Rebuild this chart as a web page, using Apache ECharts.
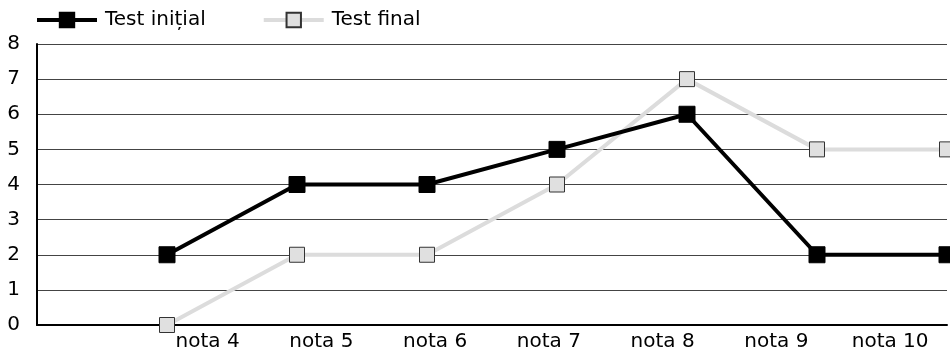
<!DOCTYPE html>
<html>
<head>
<meta charset="utf-8">
<script src="https://cdn.jsdelivr.net/npm/echarts@6/dist/echarts.min.js"></script>
<style>html,body{margin:0;padding:0;background:#fff;}#c{width:950px;height:349px;}</style>
</head>
<body>
<div id="c"></div>
<script>
var categories = ['', 'nota 4', 'nota 5', 'nota 6', 'nota 7', 'nota 8', 'nota 9', 'nota 10'];
var testInitial = [null, 2, 4, 4, 5, 6, 2, 2];
var testFinal = [null, 0, 2, 2, 4, 7, 5, 5];
var yTicks = [0, 1, 2, 3, 4, 5, 6, 7, 8];

var font = 'DejaVu Sans, sans-serif';
var chart = echarts.init(document.getElementById('c'));
chart.setOption({
  animation: false,
  backgroundColor: '#fff',
  legend: {
    left: 35, top: 10, padding: 0,
    itemWidth: 60, itemHeight: 18, itemGap: 56,
    textStyle: { fontFamily: font, fontSize: 20, color: '#000', padding: [0,0,0,3] },
    data: [
      { name: 'Test inițial', lineStyle: { width: 4, color: '#000' } },
      { name: 'Test final', lineStyle: { width: 4, color: '#dcdcdc' } }
    ]
  },
  grid: { left: 37, right: 3, top: 44, bottom: 24, outerBoundsMode: 'none', containLabel: false },
  xAxis: [{
    type: 'category', data: categories, boundaryGap: true,
    axisLine: { lineStyle: { color: '#000', width: 2 } },
    axisTick: { inside: true, length: 6, lineStyle: { color: '#000', width: 1.5 } },
    axisLabel: { fontFamily: font, fontSize: 20, color: '#000', margin: 7 },
    splitLine: { show: false }
  }, {
    type: 'category', data: categories, boundaryGap: false, show: false
  }],
  yAxis: {
    type: 'value', min: yTicks[0], max: yTicks[yTicks.length - 1], interval: 1,
    axisLine: { show: true, lineStyle: { color: '#000', width: 2 } },
    axisTick: { show: false },
    axisLabel: { fontFamily: font, fontSize: 20, color: '#000', margin: 17, padding: [4, 0, 0, 0] },
    splitLine: { lineStyle: { color: '#444', width: 1 } }
  },
  series: [{
    name: 'Test final', type: 'line', xAxisIndex: 1, data: testFinal,
    symbol: 'rect', symbolSize: 15,
    lineStyle: { color: '#dcdcdc', width: 4 },
    itemStyle: { color: '#e0e0e0', borderColor: '#333', borderWidth: 1 }
  }, {
    name: 'Test inițial', type: 'line', xAxisIndex: 1, data: testInitial,
    symbol: 'rect', symbolSize: 16,
    lineStyle: { color: '#000', width: 4 },
    itemStyle: { color: '#000', borderColor: '#000', borderWidth: 1 }
  }]
});
</script>
</body>
</html>
